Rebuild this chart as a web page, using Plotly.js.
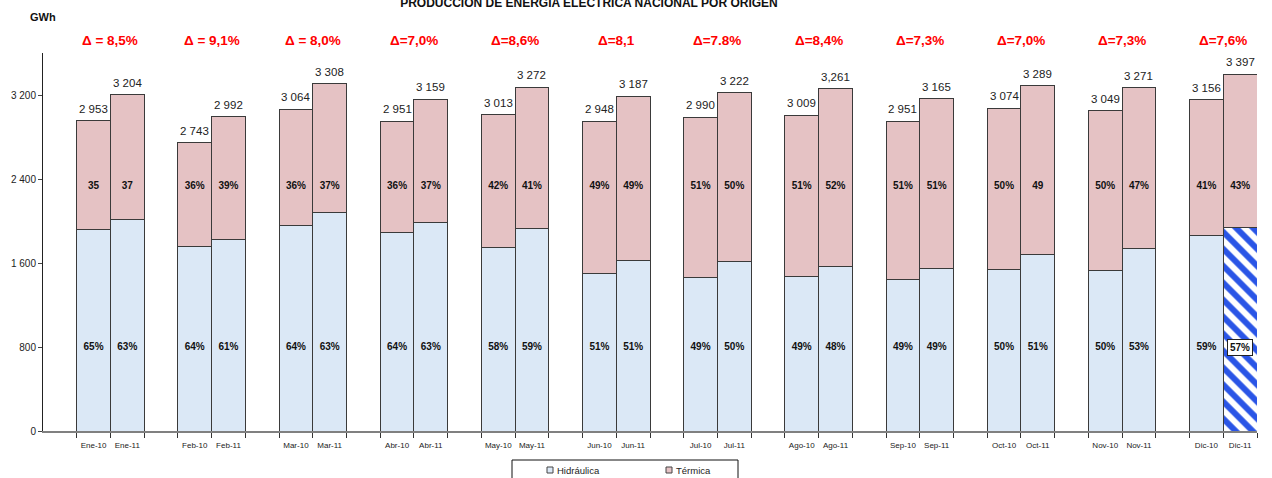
<!DOCTYPE html>
<html>
<head>
<meta charset="utf-8">
<script src="https://cdn.plot.ly/plotly-3.0.1.min.js"></script>
<style>
html,body{margin:0;padding:0;background:#fff;}
#chart{width:1272px;height:478px;}
</style>
</head>
<body>
<div id="chart"></div>
<script>
// ---- data ----
var tickLabels10 = ['Ene-10','Feb-10','Mar-10','Abr-10','May-10','Jun-10','Jul-10','Ago-10','Sep-10','Oct-10','Nov-10','Dic-10'];
var tickLabels11 = ['Ene-11','Feb-11','Mar-11','Abr-11','May-11','Jun-11','Jul-11','Ago-11','Sep-11','Oct-11','Nov-11','Dic-11'];

var hydro10   = [1919,1756,1961,1889,1748,1503,1465,1474,1446,1537,1525,1862];
var hydro11   = [2018,1825,2084,1990,1930,1625,1611,1565,1551,1677,1734,1936];
var thermal10 = [1034, 987,1103,1062,1265,1445,1525,1535,1505,1537,1524,1294];
var thermal11 = [1186,1167,1224,1169,1342,1562,1611,1696,1614,1612,1537,1461];

var total10 = [2953,2743,3064,2951,3013,2948,2990,3009,2951,3074,3049,3156];
var total11 = [3204,2992,3308,3159,3272,3187,3222,3261,3165,3289,3271,3397];
var totalText10 = ['2 953','2 743','3 064','2 951','3 013','2 948','2 990','3 009','2 951','3 074','3 049','3 156'];
var totalText11 = ['3 204','2 992','3 308','3 159','3 272','3 187','3 222','3,261','3 165','3 289','3 271','3 397'];

var hydroPct10 = ['65%','64%','64%','64%','58%','51%','49%','49%','49%','50%','50%','59%'];
var hydroPct11 = ['63%','61%','63%','63%','59%','51%','50%','48%','49%','51%','53%','57%'];
var thermPct10 = ['35','36%','36%','36%','42%','49%','51%','51%','51%','50%','50%','41%'];
var thermPct11 = ['37','39%','37%','37%','41%','49%','50%','52%','51%','49','47%','43%'];

var deltas = ['Δ = 8,5%','Δ = 9,1%','Δ = 8,0%','Δ=7,0%','Δ=8,6%','Δ=8,1','Δ=7.8%','Δ=8,4%','Δ=7,3%','Δ=7,0%','Δ=7,3%','Δ=7,6%'];

var seriesNames = ['Hidráulica','Térmica'];

// ---- build interleaved series ----
var xs=[], tl=[], hy=[], th=[], tot=[], totT=[], hp=[], tp=[], edges=[];
for (var i=0;i<12;i++){
  xs.push(3*i+1, 3*i+2);
  tl.push(tickLabels10[i], tickLabels11[i]);
  hy.push(hydro10[i], hydro11[i]);
  th.push(thermal10[i], thermal11[i]);
  tot.push(total10[i], total11[i]);
  totT.push(totalText10[i], totalText11[i]);
  hp.push(hydroPct10[i], hydroPct11[i]);
  tp.push(thermPct10[i], thermPct11[i]);
  edges.push(3*i+0.5, 3*i+1.5, 3*i+2.5);
}
var n = xs.length;
var hpShown = hp.map(function(t,k){ return k===n-1 ? '' : t; });

var HYDRO = '#dbe8f6', THERM = '#e5c2c4';
var LS = 'Liberation Sans, Arial, sans-serif';

var traces = [
  {type:'bar', name:seriesNames[0], x:xs.slice(0,n-1), y:hy.slice(0,n-1), width:1,
   marker:{color:HYDRO, line:{color:'#3a3a3a', width:1}}, hoverinfo:'skip', showlegend:false},
  {type:'bar', name:seriesNames[0], x:xs.slice(n-1), y:hy.slice(n-1), width:1,
   marker:{color:'#ffffff', line:{color:'#3a3a3a', width:1},
     pattern:{shape:'\\', fgcolor:'#2a55e6', bgcolor:'#ffffff', fillmode:'replace', fgopacity:1, size:12, solidity:0.5}},
   hoverinfo:'skip', showlegend:false},
  {type:'bar', name:seriesNames[1], x:xs, y:th, width:1,
   marker:{color:THERM, line:{color:'#3a3a3a', width:1}}, hoverinfo:'skip', showlegend:false},
  {type:'scatter', mode:'text', x:xs, y:xs.map(function(){return 800;}), text:hpShown, textposition:'middle center',
   textfont:{family:LS, size:10, color:'#111', weight:'bold'}, showlegend:false, hoverinfo:'skip'},
  {type:'scatter', mode:'text', x:xs, y:xs.map(function(){return 2330;}), text:tp, textposition:'middle center',
   textfont:{family:LS, size:10, color:'#111', weight:'bold'}, showlegend:false, hoverinfo:'skip'}
];

var annotations = [];
for (var k=0;k<n;k++){
  annotations.push({x:xs[k], xref:'x', y:tot[k], yref:'y', text:totT[k], showarrow:false,
    xanchor:'center', yanchor:'bottom', yshift:4, font:{family:LS, size:11.5, color:'#222'}});
}
for (var j=0;j<12;j++){
  annotations.push({x:3*j+1.5, xref:'x', y:1.034, yref:'paper', text:'<b>'+deltas[j]+'</b>',
    showarrow:false, font:{family:LS, size:13.5, color:'#ff0000'}, xanchor:'center', yanchor:'middle'});
}
annotations.push({x:xs[n-1], xref:'x', y:800, yref:'y', text:'<b>'+hp[n-1]+'</b>', showarrow:false,
  font:{family:LS, size:10, color:'#111'}, bgcolor:'#ffffff', bordercolor:'#222', borderwidth:1, borderpad:2});
annotations.push({x:0, xref:'paper', y:1.095, yref:'paper', text:'<b>GWh</b>', showarrow:false,
  font:{family:LS, size:11, color:'#111'}, xanchor:'center', yanchor:'middle'});

// manual legend (box + swatches + labels)
var W = 1214, H = 378;
function px(x){ return (x-43)/W; }
function py(y){ return (431-y)/H; }
var shapes = [
  {type:'rect', xref:'paper', yref:'paper', x0:px(512), x1:px(738), y0:py(460), y1:py(490),
   line:{color:'#111', width:1}, fillcolor:'#ffffff', layer:'above'},
  {type:'rect', xref:'paper', yref:'paper', x0:px(547), x1:px(553), y0:py(467), y1:py(473),
   line:{color:'#444', width:1}, fillcolor:HYDRO, layer:'above'},
  {type:'rect', xref:'paper', yref:'paper', x0:px(666), x1:px(672), y0:py(467), y1:py(473),
   line:{color:'#444', width:1}, fillcolor:THERM, layer:'above'}
];
annotations.push({x:px(555), xref:'paper', y:py(470), yref:'paper', text:seriesNames[0], showarrow:false,
  xanchor:'left', yanchor:'middle', font:{family:LS, size:9.5, color:'#222'}});
annotations.push({x:px(674), xref:'paper', y:py(470), yref:'paper', text:seriesNames[1], showarrow:false,
  xanchor:'left', yanchor:'middle', font:{family:LS, size:9.5, color:'#222'}});

var layout = {
  width:1272, height:478,
  margin:{l:43, r:15, t:53, b:47, autoexpand:false},
  paper_bgcolor:'#ffffff', plot_bgcolor:'#ffffff',
  barmode:'stack', bargap:0,
  showlegend:false,
  title:{text:'<b>PRODUCCION DE ENERGIA ELECTRICA NACIONAL POR ORIGEN</b>', x:0.463, xanchor:'center',
    y:0.994, yanchor:'middle', font:{family:LS, size:12, color:'#111'}},
  xaxis:{range:[-0.5,35.5], showline:true, linecolor:'#808080', linewidth:1.5, zeroline:false, showgrid:false,
    tickmode:'array', tickvals:xs, ticktext:tl, ticks:'outside', ticklen:6, tickcolor:'rgba(0,0,0,0)',
    tickfont:{family:LS, size:8, color:'#222'}, tickangle:0, automargin:false,
    minor:{tickmode:'array', tickvals:edges, ticks:'outside', ticklen:5, tickcolor:'#333', tickwidth:1, showgrid:false}},
  yaxis:{range:[0,3600], showline:true, linecolor:'#222', linewidth:1, zeroline:false, showgrid:false, automargin:false,
    tickmode:'array', tickvals:[0,800,1600,2400,3200], ticktext:['0','800','1 600','2 400','3 200'],
    ticks:'outside', ticklen:4, tickcolor:'#444', tickfont:{family:LS, size:10, color:'#222'}},
  shapes:shapes,
  annotations:annotations
};

Plotly.newPlot('chart', traces, layout, {staticPlot:true, displayModeBar:false});
</script>
</body>
</html>
